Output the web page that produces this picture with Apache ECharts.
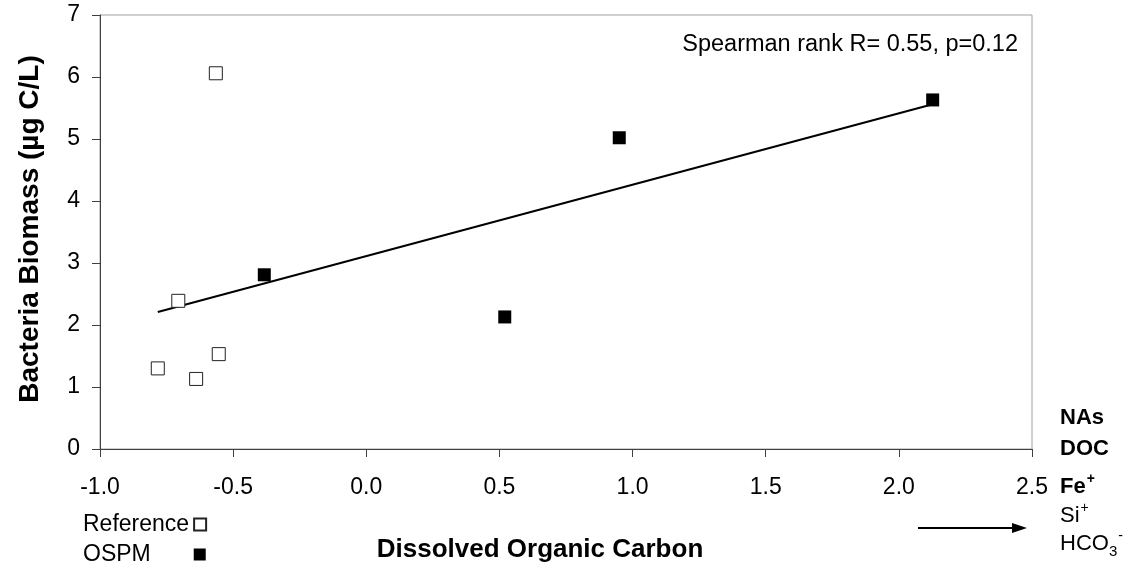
<!DOCTYPE html>
<html>
<head>
<meta charset="utf-8">
<script src="https://cdn.jsdelivr.net/npm/echarts@6/dist/echarts.min.js"></script>
<style>
  html, body { margin: 0; padding: 0; background: #fff; }
  #chart { width: 1135px; height: 571px; }
</style>
</head>
<body>
<div id="chart"></div>
<script>
// Dissolved organic carbon (x) vs bacteria biomass (y)
const referenceX = [-0.565, -0.706, -0.783, -0.639, -0.554];
const referenceY = [6.06, 2.39, 1.30, 1.13, 1.53];
const ospmX = [-0.383, 0.52, 0.95, 2.127];
const ospmY = [2.81, 2.13, 5.02, 5.63];
// Linear trend across all sites (end points)
const trendX = [-0.783, 2.127];
const trendY = [2.21, 5.56];
const xTicks = [-1.0, -0.5, 0.0, 0.5, 1.0, 1.5, 2.0, 2.5];
const yTicks = [0, 1, 2, 3, 4, 5, 6, 7];
const statsLabel = 'Spearman rank R= 0.55, p=0.12';
const sideLabels = [
  { rich: '{b|NAs}', y: 418 },
  { rich: '{b|DOC}', y: 449 },
  { rich: '{b|Fe}{bsup|+}', y: 487 },
  { rich: '{n|Si}{sup|+}', y: 516 },
  { rich: '{n|HCO}{sub|3}{sup|-}', y: 544 }
];

const FONT = '"Liberation Sans", Arial, sans-serif';
const pair = (xs, ys) => xs.map((x, i) => [x, ys[i]]);

const chart = echarts.init(document.getElementById('chart'), null, { renderer: 'canvas' });

const richStyles = {
  b: { fontFamily: FONT, fontSize: 22, fontWeight: 'bold', color: '#000' },
  bsup: { fontFamily: FONT, fontSize: 14, fontWeight: 'bold', color: '#000', verticalAlign: 'top', padding: [0, 0, 16, 1] },
  n: { fontFamily: FONT, fontSize: 22, color: '#000' },
  sup: { fontFamily: FONT, fontSize: 14, color: '#000', verticalAlign: 'top', padding: [0, 0, 16, 1] },
  sub: { fontFamily: FONT, fontSize: 15, color: '#000', verticalAlign: 'bottom', padding: [14, 0, 0, 0] }
};

const graphics = [
  {
    type: 'text',
    style: {
      text: statsLabel, x: 1018, y: 45,
      align: 'right', verticalAlign: 'middle',
      font: '23.5px ' + FONT, fill: '#000'
    }
  },
  // direction arrow
  {
    type: 'line',
    shape: { x1: 918, y1: 528, x2: 1014, y2: 528 },
    style: { stroke: '#000', lineWidth: 2 }
  },
  {
    type: 'polygon',
    shape: { points: [[1012, 523], [1027, 528], [1012, 533]] },
    style: { fill: '#000' }
  }
];
sideLabels.forEach(s => {
  graphics.push({
    type: 'text',
    style: {
      text: s.rich, x: 1060, y: s.y,
      align: 'left', verticalAlign: 'middle',
      rich: richStyles
    }
  });
});

// legend entries: names share one column width so the markers line up
const LEGEND_FONT = '23px ' + FONT;
const measureCtx = document.createElement('canvas').getContext('2d');
measureCtx.font = LEGEND_FONT;
const legendNameWidth = Math.max(
  measureCtx.measureText('Reference').width,
  measureCtx.measureText('OSPM').width
);
const legendEntry = (name, top) => {
  const w = measureCtx.measureText(name).width;
  return {
    orient: 'vertical',
    left: 78, top: top,
    align: 'right',
    itemWidth: 12, itemHeight: 12,
    selectedMode: false,
    data: [name],
    textStyle: {
      fontFamily: FONT, fontSize: 23, color: '#000',
      padding: [0, Math.max(0, Math.round(legendNameWidth - w)), 0, 0]
    }
  };
};

chart.setOption({
  animation: false,
  backgroundColor: '#fff',
  grid: {
    left: 100, top: 15, right: 103, bottom: 122,
    show: true, borderColor: '#a0a0a0', borderWidth: 1, backgroundColor: 'transparent'
  },
  legend: [legendEntry('Reference', 508), legendEntry('OSPM', 538)],
  xAxis: {
    type: 'value',
    min: -1.0, max: 2.5, interval: 0.5,
    name: 'Dissolved Organic Carbon',
    nameLocation: 'middle',
    nameGap: 88,
    nameTextStyle: { fontFamily: FONT, fontSize: 26, fontWeight: 'bold', color: '#000', padding: [0, 52, 0, 0] },
    axisLine: { show: true, onZero: false, lineStyle: { color: '#404040', width: 1 } },
    axisTick: { show: true, inside: false, length: 8, lineStyle: { color: '#404040' } },
    axisLabel: {
      margin: 27, fontFamily: FONT, fontSize: 23, color: '#000',
      formatter: v => xTicks.find(t => Math.abs(t - v) < 1e-9).toFixed(1)
    },
    splitLine: { show: false }
  },
  yAxis: {
    type: 'value',
    min: 0, max: 7, interval: 1,
    name: 'Bacteria Biomass (µg C/L)',
    nameLocation: 'middle',
    nameRotate: 90,
    nameGap: 56,
    nameTextStyle: { fontFamily: FONT, fontSize: 28, fontWeight: 'bold', color: '#000', padding: [0, 0, 0, 6] },
    axisLine: { show: true, onZero: false, lineStyle: { color: '#404040', width: 1 } },
    axisTick: { show: true, inside: false, length: 8, lineStyle: { color: '#404040' } },
    axisLabel: {
      margin: 20, fontFamily: FONT, fontSize: 23, color: '#000',
      formatter: v => String(yTicks.find(t => Math.abs(t - v) < 1e-9))
    },
    splitLine: { show: false }
  },
  series: [
    {
      name: 'Trend',
      type: 'line',
      data: pair(trendX, trendY),
      symbol: 'none',
      lineStyle: { color: '#000', width: 2 },
      silent: true,
      z: 2
    },
    {
      name: 'Reference',
      type: 'scatter',
      data: pair(referenceX, referenceY),
      symbol: 'rect',
      symbolSize: 13,
      itemStyle: { color: '#fff', borderColor: '#222', borderWidth: 1, opacity: 1 },
      z: 3
    },
    {
      name: 'OSPM',
      type: 'scatter',
      data: pair(ospmX, ospmY),
      symbol: 'rect',
      symbolSize: 13,
      itemStyle: { color: '#000', borderColor: '#000', borderWidth: 0, opacity: 1 },
      z: 3
    }
  ],
  graphic: graphics
});
</script>
</body>
</html>
